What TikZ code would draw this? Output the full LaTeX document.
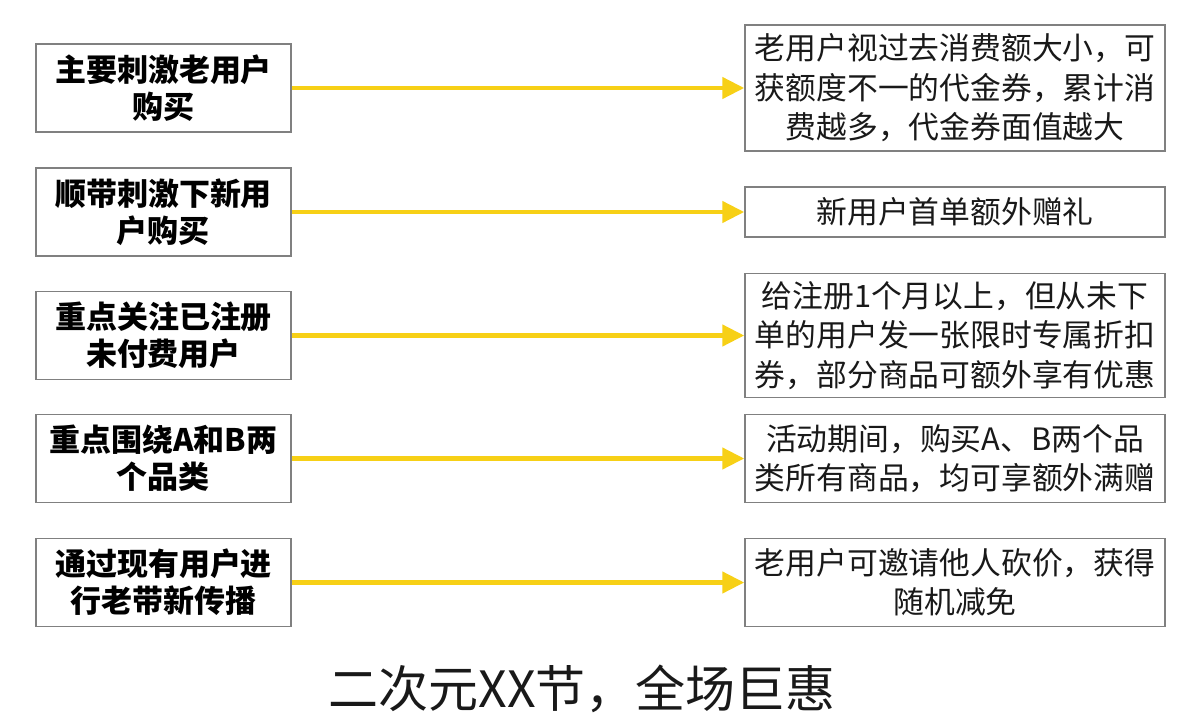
\documentclass[tikz,border=0pt]{standalone}
\usepackage{fontspec}
\setmainfont{Noto Sans CJK SC}
\usetikzlibrary{arrows.meta}
\definecolor{boxgray}{RGB}{128,128,128}
\definecolor{arrowyellow}{RGB}{247,208,22}
\definecolor{txt}{RGB}{25,25,25}
\tikzset{
  leftbox/.style={draw=boxgray, line width=1.5pt, fill=white, minimum width=255pt, minimum height=88pt,
    inner sep=0pt, align=center, text=black, font=\fontsize{31}{37}\selectfont\bfseries},
  rightbox/.style={draw=boxgray, line width=1.5pt, fill=white, minimum width=420pt,
    inner sep=0pt, align=center, text=txt, font=\fontsize{30.8}{39.5}\selectfont},
  yarrow/.style={draw=arrowyellow, line width=4.5pt, -{Triangle[length=22pt,width=21pt]}}
}
\begin{document}
\begin{tikzpicture}[x=1pt,y=-1pt]
\useasboundingbox[fill=white] (0,0) rectangle (1200,728);
% left boxes
\node[leftbox] (l1) at (163.5,88) {主要刺激老用户\\购买};
\node[leftbox] (l2) at (163.5,212) {顺带刺激下新用\\户购买};
\node[leftbox] (l3) at (163.5,335.5) {重点关注已注册\\未付费用户};
\node[leftbox] (l4) at (163.5,458.5) {重点围绕A和B两\\个品类};
\node[leftbox] (l5) at (163.5,582.5) {通过现有用户进\\行老带新传播};
% right boxes
\node[rightbox, minimum height=126pt] (r1) at (955,88) {老用户视过去消费额大小，可\\获额度不一的代金券，累计消\\费越多，代金券面值越大};
\node[rightbox, minimum height=50pt] (r2) at (955,212) {新用户首单额外赠礼};
\node[rightbox, minimum height=124pt] (r3) at (955,335.5) {给注册1个月以上，但从未下\\单的用户发一张限时专属折扣\\券，部分商品可额外享有优惠};
\node[rightbox, minimum height=88pt] (r4) at (955,458.5) {活动期间，购买A、B两个品\\类所有商品，均可享额外满赠};
\node[rightbox, minimum height=88pt] (r5) at (955,582.5) {老用户可邀请他人砍价，获得\\随机减免};
% arrows
\foreach \i in {1,...,5} {
  \draw[yarrow] (l\i.east) -- (r\i.west);
}
% title
\node[font=\fontsize{50}{52}\selectfont, text=txt, inner sep=0pt] (title) at (582,689) {二次元XX节，全场巨惠};
\end{tikzpicture}
\end{document}
